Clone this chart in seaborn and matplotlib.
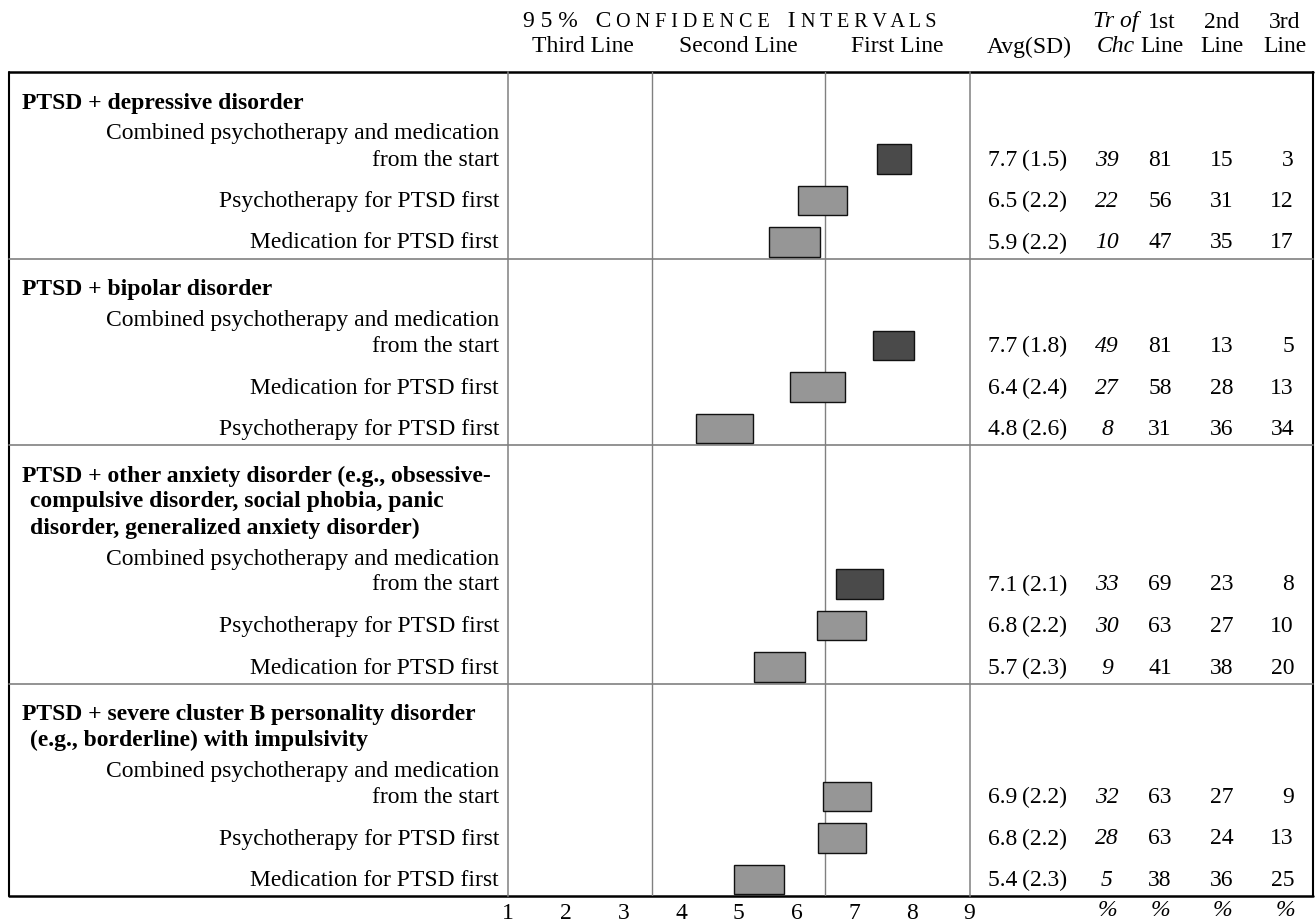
import matplotlib
matplotlib.use("Agg")
import matplotlib.pyplot as plt
import seaborn as sns

# ---- table content -------------------------------------------------------
group_titles = [
    ["PTSD + depressive disorder"],
    ["PTSD + bipolar disorder"],
    ["PTSD + other anxiety disorder (e.g., obsessive-",
     "compulsive disorder, social phobia, panic",
     "disorder, generalized anxiety disorder)"],
    ["PTSD + severe cluster B personality disorder",
     "(e.g., borderline) with impulsivity"],
]
options = [
    [["Combined psychotherapy and medication", "from the start"],
     ["Psychotherapy for PTSD first"], ["Medication for PTSD first"]],
    [["Combined psychotherapy and medication", "from the start"],
     ["Medication for PTSD first"], ["Psychotherapy for PTSD first"]],
    [["Combined psychotherapy and medication", "from the start"],
     ["Psychotherapy for PTSD first"], ["Medication for PTSD first"]],
    [["Combined psychotherapy and medication", "from the start"],
     ["Psychotherapy for PTSD first"], ["Medication for PTSD first"]],
]
avg = [7.7, 6.5, 5.9, 7.7, 6.4, 4.8, 7.1, 6.8, 5.7, 6.9, 6.8, 5.4]
sd = [1.5, 2.2, 2.2, 1.8, 2.4, 2.6, 2.1, 2.2, 2.3, 2.2, 2.2, 2.3]
ci_low = [7.40, 6.03, 5.53, 7.32, 5.89, 4.26, 6.69, 6.36, 5.26, 6.46, 6.37, 4.91]
ci_high = [7.98, 6.87, 6.41, 8.04, 6.84, 5.24, 7.50, 7.21, 6.14, 7.30, 7.21, 5.78]
treatment_of_choice = [39, 22, 10, 49, 27, 8, 33, 30, 9, 32, 28, 5]
first_line = [81, 56, 47, 81, 58, 31, 69, 63, 41, 63, 63, 38]
second_line = [15, 31, 35, 13, 28, 36, 23, 27, 38, 27, 24, 36]
third_line = [3, 12, 17, 5, 13, 34, 8, 10, 20, 9, 13, 25]
scale_ticks = [1, 2, 3, 4, 5, 6, 7, 8, 9]
zone_bounds = [3.5, 6.5]
zone_names = ["Third Line", "Second Line", "First Line"]

# ---- style ---------------------------------------------------------------
sns.set_theme(style="white")
plt.rcParams["font.family"] = ["Liberation Serif", "DejaVu Serif"]
plt.rcParams["text.color"] = "black"
plt.rcParams["xtick.color"] = "black"
plt.rcParams["axes.labelcolor"] = "black"
FS = 17
SC = 14.5  # small-caps size for the banner
DARK, LIGHT = "#4a4a4a", "#969696"
GRID = "#808080"

W, H = 1316, 924
TOP = 72
X_LEFT, X_RIGHT = 9, 1313
CI_X0, CI_X1 = 508, 969.5

# ---- vertical layout (pixels from the top) -------------------------------
head_rows, opt_rows, dividers = [], [], []
y = TOP
for gi, title in enumerate(group_titles):
    y += 31
    rows = []
    for k in range(len(title)):
        rows.append(y)
        if k < len(title) - 1:
            y += 26
    head_rows.append(rows)
    y += 31
    for oi, lab in enumerate(options[gi]):
        lines = []
        for k in range(len(lab)):
            lines.append(y)
            if k < len(lab) - 1:
                y += 26
        opt_rows.append(lines)
        if oi < len(options[gi]) - 1:
            y += 41.5
    y += 15.5
    dividers.append(y)
BOTTOM = dividers[-1]

fig = plt.figure(figsize=(W / 100, H / 100), dpi=100)
tab = fig.add_axes([0, 0, 1, 1])
tab.set_xlim(0, W)
tab.set_ylim(H, 0)
tab.axis("off")

ci = fig.add_axes([CI_X0 / W, (H - BOTTOM) / H, (CI_X1 - CI_X0) / W, (BOTTOM - TOP) / H])
ci.set_facecolor("none")
ci.set_xlim(1, 9)
ci.set_ylim(BOTTOM, TOP)
for s in ["top", "bottom"]:
    ci.spines[s].set_visible(False)
for s in ["left", "right"]:
    ci.spines[s].set_color(GRID)
    ci.spines[s].set_linewidth(1.1)
ci.set_yticks([])
ci.set_xticks(scale_ticks)
ci.set_xticklabels([str(t) for t in scale_ticks])
ci.tick_params(axis="x", length=0, pad=5, labelsize=FS, labelcolor="black")
for xb in zone_bounds:
    ci.axvline(xb, color=GRID, lw=1.0, zorder=1)

# confidence interval boxes: dark when the whole interval is in the first-line zone
centers = [rows[-1] - 1 for rows in opt_rows]
colors = [DARK if lo >= zone_bounds[1] else LIGHT for lo in ci_low]
ci.barh(centers, [h - l for l, h in zip(ci_low, ci_high)], left=ci_low,
        height=29.5, color=colors, edgecolor="#111111", linewidth=1.0, zorder=3)

# ---- table lines ---------------------------------------------------------
tab.plot([X_LEFT, X_RIGHT], [TOP, TOP], color="black", lw=1.8)
tab.plot([X_LEFT, X_RIGHT], [BOTTOM, BOTTOM], color="black", lw=1.8)
tab.plot([X_LEFT, X_LEFT], [TOP, BOTTOM], color="black", lw=1.5)
tab.plot([X_RIGHT, X_RIGHT], [TOP, BOTTOM], color="black", lw=1.5)
for d in dividers[:-1]:
    tab.plot([X_LEFT, X_RIGHT], [d, d], color=GRID, lw=1.2)

# ---- header --------------------------------------------------------------
parts = [("9 5 %", FS), ("   C", FS), (" O N F I D E N C E", SC),
         ("   I", FS), (" N T E R V A L S", SC)]
prev = tab.text(523, 32, parts[0][0], fontsize=parts[0][1], ha="left", va="bottom")
for txt, size in parts[1:]:
    prev = tab.annotate(txt, xy=(1, 0), xycoords=prev, fontsize=size,
                        ha="left", va="bottom")
for name, xc in zip(zone_names, [583, 738, 897]):
    tab.text(xc, 47, name, fontsize=FS, ha="center", va="center")

tab.text(1029, 47, "Avg(SD)", fontsize=FS, ha="center", va="center")
tab.text(1116, 22, "Tr of", fontsize=FS, ha="center", va="center", style="italic")
tab.text(1116, 47, "Chc", fontsize=FS, ha="center", va="center", style="italic")
for top_lab, xc in zip(["1st", "2nd", "3rd"], [1162, 1222, 1285]):
    tab.text(xc, 22, top_lab, fontsize=FS, ha="center", va="center")
    tab.text(xc, 47, "Line", fontsize=FS, ha="center", va="center")

# ---- rows ----------------------------------------------------------------
for gi, title in enumerate(group_titles):
    for k, (line, yy) in enumerate(zip(title, head_rows[gi])):
        tab.text(22 if k == 0 else 30, yy, line, fontsize=FS, fontweight="bold",
                 ha="left", va="center")

idx = 0
for gi in range(len(options)):
    for lab in options[gi]:
        for line, yy in zip(lab, opt_rows[idx]):
            tab.text(499, yy, line, fontsize=FS, ha="right", va="center")
        yv = opt_rows[idx][-1]
        tab.text(1028, yv, f"{avg[idx]:.1f}\u2009({sd[idx]:.1f})", fontsize=FS,
                 ha="center", va="center")
        tab.text(1107, yv, str(treatment_of_choice[idx]), fontsize=FS,
                 ha="center", va="center", style="italic")
        tab.text(1160, yv, str(first_line[idx]), fontsize=FS, ha="center", va="center")
        tab.text(1222, yv, str(second_line[idx]), fontsize=FS, ha="center", va="center")
        tab.text(1294, yv, str(third_line[idx]), fontsize=FS, ha="right", va="center")
        idx += 1

for xc in [1107, 1160, 1222, 1285]:
    tab.text(xc, BOTTOM + 15, "%", fontsize=FS, ha="center", va="center",
             style="italic")

fig.savefig("out.png", dpi=100)
